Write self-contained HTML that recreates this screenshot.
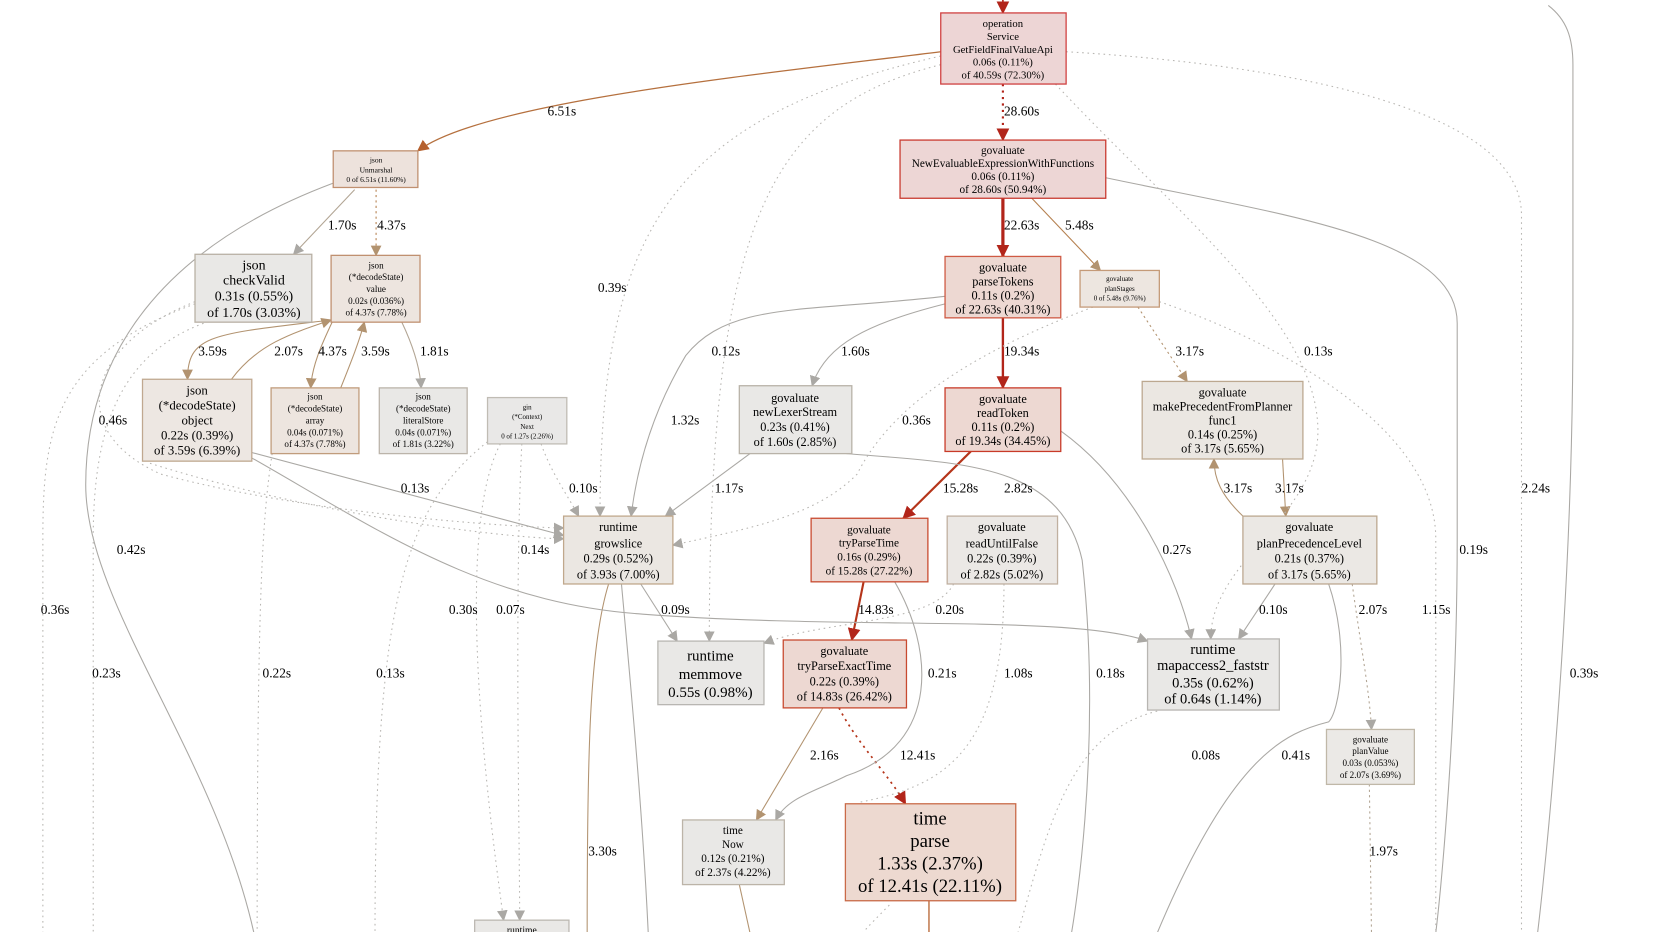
<!DOCTYPE html>
<html><head><meta charset="utf-8"><style>
html,body{margin:0;padding:0;background:#fff;}
svg{display:block;}
text{font-family:"Liberation Serif",serif;text-anchor:middle;fill:#000;}
.l{font-size:12.5px;text-anchor:start;}
</style></head><body>
<svg width="1679" height="932" viewBox="0 0 1567 865" preserveAspectRatio="none" xmlns="http://www.w3.org/2000/svg">
<defs>
<marker id="ar2" viewBox="0 0 10 10" refX="9" refY="5" markerWidth="12" markerHeight="12" orient="auto" markerUnits="userSpaceOnUse"><path d="M0,0 L10,5 L0,10z" fill="#b2251a"/></marker>
<marker id="ao" viewBox="0 0 10 10" refX="9" refY="5" markerWidth="11" markerHeight="11" orient="auto" markerUnits="userSpaceOnUse"><path d="M0,0 L10,5 L0,10z" fill="#b5602d"/></marker>
<marker id="ab" viewBox="0 0 10 10" refX="9" refY="5" markerWidth="10" markerHeight="10" orient="auto" markerUnits="userSpaceOnUse"><path d="M0,0 L10,5 L0,10z" fill="#b29370"/></marker>
<marker id="ag" viewBox="0 0 10 10" refX="9" refY="5" markerWidth="10" markerHeight="10" orient="auto" markerUnits="userSpaceOnUse"><path d="M0,0 L10,5 L0,10z" fill="#aaa8a4"/></marker>
</defs>
<g fill="none">
<path d="M936,0 L936,12" stroke="#b2251a" stroke-width="1.5" marker-end="url(#ar2)"/>
<path d="M936,78 L936,130" stroke="#b2251a" stroke-width="2" stroke-dasharray="2,4" marker-end="url(#ar2)"/>
<path d="M936,184 L936,238" stroke="#b2251a" stroke-width="3" marker-end="url(#ar2)"/>
<path d="M936,295 L936,360" stroke="#b2251a" stroke-width="2.2" marker-end="url(#ar2)"/>
<path d="M906,419 L843,481" stroke="#b5351a" stroke-width="2" marker-end="url(#ar2)"/>
<path d="M806,540 L795,594" stroke="#b5351a" stroke-width="2" marker-end="url(#ar2)"/>
<path d="M783,657 C800,690 830,720 845,746" stroke="#b5351a" stroke-width="1.6" stroke-dasharray="2,4" marker-end="url(#ar2)"/>
<path d="M878,48 C700,70 450,95 390,140" stroke="#b5703e" stroke-width="1.2" marker-end="url(#ao)"/>
<path d="M963,184 L1027,251" stroke="#b5804f" stroke-width="1" marker-end="url(#ab)"/>
<path d="M331,176 L274,236" stroke="#b2a594" stroke-width="1" marker-end="url(#ag)"/>
<path d="M351,176 L351,237" stroke="#b5804f" stroke-width="1" stroke-dasharray="2,3" marker-end="url(#ab)"/>
<path d="M309,297 C200,310 175,310 175,352" stroke="#b29370" stroke-width="1" marker-end="url(#ab)"/>
<path d="M216,352 C240,320 270,310 309,297" stroke="#b29370" stroke-width="1" marker-end="url(#ab)"/>
<path d="M310,299 C300,320 291,340 290,360" stroke="#b29370" stroke-width="1" marker-end="url(#ab)"/>
<path d="M318,360 C328,335 336,315 340,299" stroke="#b29370" stroke-width="1" marker-end="url(#ab)"/>
<path d="M375,299 C385,320 392,340 393,360" stroke="#b2a594" stroke-width="1" marker-end="url(#ag)"/>
<path d="M1062,285 L1108,354" stroke="#b29370" stroke-width="1" stroke-dasharray="2,3" marker-end="url(#ab)"/>
<path d="M1197,426 L1200,479" stroke="#b29370" stroke-width="1" marker-end="url(#ab)"/>
<path d="M1160,479 C1140,460 1133,445 1133,426" stroke="#b29370" stroke-width="1" marker-end="url(#ab)"/>
<path d="M1262,542 C1270,600 1278,640 1280,677" stroke="#b2a594" stroke-width="1" stroke-dasharray="2,3" marker-end="url(#ag)"/>
<path d="M1278,728 L1280,866" stroke="#b2a594" stroke-width="1" stroke-dasharray="2,3"/>
<path d="M768,657 L706,761" stroke="#b29370" stroke-width="1" marker-end="url(#ab)"/>
<path d="M568,542 C550,600 548,700 548,866" stroke="#b29370" stroke-width="1"/>
<path d="M690,821 L700,866" stroke="#b29370" stroke-width="1"/>
<path d="M867,836 L867,866" stroke="#b5602d" stroke-width="1.2"/>
<g stroke="#aaa8a4" stroke-width="1">
<path d="M835,540 C870,600 880,690 790,720 C760,735 735,740 724,761" marker-end="url(#ag)"/>
<path d="M311,170 C150,230 80,330 80,450 C80,560 200,700 237,866"/>
<path d="M882,275 C750,290 680,280 640,330 C610,380 595,430 589,479" marker-end="url(#ag)"/>
<path d="M882,282 C810,300 770,320 758,358" marker-end="url(#ag)"/>
<path d="M700,421 L621,479" marker-end="url(#ag)"/>
<path d="M235,420 L526,497" marker-end="url(#ag)"/>
<path d="M235,425 C350,490 450,560 600,570 C800,585 1000,570 1071,595" marker-end="url(#ag)"/>
<path d="M598,542 L632,595" marker-end="url(#ag)"/>
<path d="M790,421 C900,430 990,430 1010,520 C1030,700 1000,866 1000,866"/>
<path d="M990,400 C1060,450 1100,540 1112,593" marker-end="url(#ag)"/>
<path d="M1190,542 L1156,593" marker-end="url(#ag)"/>
<path d="M1240,542 C1260,600 1250,660 1240,670 C1200,680 1150,700 1080,866"/>
<path d="M1032,165 C1200,200 1360,220 1360,300 L1360,500 C1360,700 1340,866 1340,866"/>
<path d="M1445,5 C1462,18 1468,35 1468,60 L1468,300 C1468,600 1435,866 1435,866"/>
<path d="M580,542 C590,650 600,760 605,866"/>
</g>
<g stroke="#b8b6b2" stroke-width="1" stroke-dasharray="1.5,3.5">
<path d="M878,60 C720,100 662,200 662,595" marker-end="url(#ag)"/>
<path d="M878,52 C620,110 560,220 560,479" marker-end="url(#ag)"/>
<path d="M995,48 C1200,60 1420,100 1420,200 L1420,866"/>
<path d="M985,78 C1100,200 1230,300 1230,400 C1230,480 1130,520 1130,593" marker-end="url(#ag)"/>
<path d="M1082,280 C1200,320 1340,400 1340,500 L1340,866"/>
<path d="M1020,285 C900,330 830,380 800,440 C760,480 700,490 628,506" marker-end="url(#ag)"/>
<path d="M182,280 C80,320 60,400 150,440 C300,480 500,490 526,490" marker-end="url(#ag)"/>
<path d="M140,430 C300,480 480,500 526,500" marker-end="url(#ag)"/>
<path d="M182,282 C50,330 40,400 40,500 L40,866"/>
<path d="M190,300 C110,330 87,400 87,500 L87,866"/>
<path d="M254,421 C245,480 240,550 240,866"/>
<path d="M455,410 C380,470 350,550 350,866"/>
<path d="M467,412 C420,500 460,780 470,854" marker-end="url(#ag)"/>
<path d="M487,412 C480,550 485,780 485,854" marker-end="url(#ag)"/>
<path d="M505,412 C515,440 530,460 540,479" marker-end="url(#ag)"/>
<path d="M937,542 C937,700 880,730 800,745"/>
<path d="M890,542 C870,580 770,575 713,597" marker-end="url(#ag)"/>
<path d="M1080,660 C1000,680 980,760 950,866"/>
<path d="M830,840 C820,850 810,860 805,866"/>
</g>
</g>
<g stroke-width="1.2">
<rect x="878" y="12" width="117" height="66" fill="#edd5d5" stroke="#d04040"/>
<rect x="840" y="130" width="192" height="54" fill="#edd6d5" stroke="#c93a30"/>
<rect x="311" y="140" width="79" height="34" fill="#ede2dc" stroke="#c09070"/>
<rect x="182" y="236" width="109" height="63" fill="#e9e8e6" stroke="#b8b0a4"/>
<rect x="309" y="237" width="83" height="62" fill="#ede5df" stroke="#c09070"/>
<rect x="882" y="238" width="108" height="57" fill="#edd8d2" stroke="#cf5a44"/>
<rect x="1008" y="251" width="74" height="34" fill="#ede6e0" stroke="#c49a78"/>
<rect x="133" y="352" width="102" height="76" fill="#ede7e2" stroke="#c0a890"/>
<rect x="253" y="360" width="82" height="61" fill="#ede5df" stroke="#c09c7c"/>
<rect x="354" y="360" width="82" height="61" fill="#e9e8e6" stroke="#bbb4aa"/>
<rect x="455" y="369" width="74" height="43" fill="#e9e8e7" stroke="#c0bcb4"/>
<rect x="690" y="358" width="105" height="63" fill="#e9e8e6" stroke="#b8b2a8"/>
<rect x="882" y="360" width="108" height="59" fill="#edd8d2" stroke="#c83a28"/>
<rect x="1066" y="354" width="150" height="72" fill="#ebe7e2" stroke="#bca890"/>
<rect x="526" y="479" width="102" height="63" fill="#ebe7e2" stroke="#c0a88c"/>
<rect x="757" y="481" width="109" height="59" fill="#edd8d2" stroke="#c84a30"/>
<rect x="884" y="479" width="103" height="63" fill="#ebe8e5" stroke="#c0b0a0"/>
<rect x="1160" y="479" width="125" height="63" fill="#ebe8e4" stroke="#bca890"/>
<rect x="614" y="595" width="99" height="59" fill="#e9e8e6" stroke="#b8b6b2"/>
<rect x="731" y="594" width="115" height="63" fill="#edd8d2" stroke="#c84a30"/>
<rect x="1071" y="593" width="123" height="66" fill="#e9e8e6" stroke="#b8b6b2"/>
<rect x="1238" y="677" width="82" height="51" fill="#ebe9e6" stroke="#c0b8a8"/>
<rect x="637" y="761" width="95" height="60" fill="#e9e8e6" stroke="#bcb4a8"/>
<rect x="789" y="746" width="159" height="90" fill="#edd9d0" stroke="#c96a48"/>
<rect x="443" y="854" width="88" height="20" fill="#e9e8e6" stroke="#bcb8b2"/>
</g>
<g font-size="10">
<text x="936" y="25">operation</text><text x="936" y="37">Service</text><text x="936" y="49">GetFieldFinalValueApi</text><text x="936" y="61">0.06s (0.11%)</text><text x="936" y="73">of 40.59s (72.30%)</text>
</g>
<g font-size="10.5"><text x="936" y="143">govaluate</text><text x="936" y="155">NewEvaluableExpressionWithFunctions</text><text x="936" y="167">0.06s (0.11%)</text><text x="936" y="179">of 28.60s (50.94%)</text></g>
<g font-size="7"><text x="351" y="151">json</text><text x="351" y="160">Unmarshal</text><text x="351" y="169">0 of 6.51s (11.60%)</text></g>
<g font-size="13"><text x="237" y="250">json</text><text x="237" y="264">checkValid</text><text x="237" y="279">0.31s (0.55%)</text><text x="237" y="294">of 1.70s (3.03%)</text></g>
<g font-size="8.5"><text x="351" y="249">json</text><text x="351" y="260">(*decodeState)</text><text x="351" y="271">value</text><text x="351" y="282">0.02s (0.036%)</text><text x="351" y="293">of 4.37s (7.78%)</text></g>
<g font-size="11.5"><text x="936" y="252">govaluate</text><text x="936" y="265">parseTokens</text><text x="936" y="278">0.11s (0.2%)</text><text x="936" y="291">of 22.63s (40.31%)</text></g>
<g font-size="6.5"><text x="1045" y="261">govaluate</text><text x="1045" y="270">planStages</text><text x="1045" y="279">0 of 5.48s (9.76%)</text></g>
<g font-size="12"><text x="184" y="366">json</text><text x="184" y="380">(*decodeState)</text><text x="184" y="394">object</text><text x="184" y="408">0.22s (0.39%)</text><text x="184" y="422">of 3.59s (6.39%)</text></g>
<g font-size="8.5"><text x="294" y="371">json</text><text x="294" y="382">(*decodeState)</text><text x="294" y="393">array</text><text x="294" y="404">0.04s (0.071%)</text><text x="294" y="415">of 4.37s (7.78%)</text></g>
<g font-size="8.5"><text x="395" y="371">json</text><text x="395" y="382">(*decodeState)</text><text x="395" y="393">literalStore</text><text x="395" y="404">0.04s (0.071%)</text><text x="395" y="415">of 1.81s (3.22%)</text></g>
<g font-size="6.5"><text x="492" y="380">gin</text><text x="492" y="389">(*Context)</text><text x="492" y="398">Next</text><text x="492" y="407">0 of 1.27s (2.26%)</text></g>
<g font-size="11.5"><text x="742" y="373">govaluate</text><text x="742" y="386">newLexerStream</text><text x="742" y="400">0.23s (0.41%)</text><text x="742" y="414">of 1.60s (2.85%)</text></g>
<g font-size="11.5"><text x="936" y="374">govaluate</text><text x="936" y="387">readToken</text><text x="936" y="400">0.11s (0.2%)</text><text x="936" y="413">of 19.34s (34.45%)</text></g>
<g font-size="11.5"><text x="1141" y="368">govaluate</text><text x="1141" y="381">makePrecedentFromPlanner</text><text x="1141" y="394">func1</text><text x="1141" y="407">0.14s (0.25%)</text><text x="1141" y="420">of 3.17s (5.65%)</text></g>
<g font-size="11.5"><text x="577" y="493">runtime</text><text x="577" y="508">growslice</text><text x="577" y="522">0.29s (0.52%)</text><text x="577" y="537">of 3.93s (7.00%)</text></g>
<g font-size="10.5"><text x="811" y="495">govaluate</text><text x="811" y="507">tryParseTime</text><text x="811" y="520">0.16s (0.29%)</text><text x="811" y="533">of 15.28s (27.22%)</text></g>
<g font-size="11.5"><text x="935" y="493">govaluate</text><text x="935" y="508">readUntilFalse</text><text x="935" y="522">0.22s (0.39%)</text><text x="935" y="537">of 2.82s (5.02%)</text></g>
<g font-size="11.5"><text x="1222" y="493">govaluate</text><text x="1222" y="508">planPrecedenceLevel</text><text x="1222" y="522">0.21s (0.37%)</text><text x="1222" y="537">of 3.17s (5.65%)</text></g>
<g font-size="14"><text x="663" y="613">runtime</text><text x="663" y="630">memmove</text><text x="663" y="647">0.55s (0.98%)</text></g>
<g font-size="11.5"><text x="788" y="608">govaluate</text><text x="788" y="622">tryParseExactTime</text><text x="788" y="636">0.22s (0.39%)</text><text x="788" y="650">of 14.83s (26.42%)</text></g>
<g font-size="13.5"><text x="1132" y="607">runtime</text><text x="1132" y="622">mapaccess2_faststr</text><text x="1132" y="638">0.35s (0.62%)</text><text x="1132" y="653">of 0.64s (1.14%)</text></g>
<g font-size="8.5"><text x="1279" y="689">govaluate</text><text x="1279" y="700">planValue</text><text x="1279" y="711">0.03s (0.053%)</text><text x="1279" y="722">of 2.07s (3.69%)</text></g>
<g font-size="10.5"><text x="684" y="774">time</text><text x="684" y="787">Now</text><text x="684" y="800">0.12s (0.21%)</text><text x="684" y="813">of 2.37s (4.22%)</text></g>
<g font-size="17.5"><text x="868" y="765">time</text><text x="868" y="786">parse</text><text x="868" y="807">1.33s (2.37%)</text><text x="868" y="828">of 12.41s (22.11%)</text></g>
<g font-size="9"><text x="487" y="866">runtime</text></g>
<g>
<text class="l" x="511" y="107">6.51s</text>
<text class="l" x="937" y="107">28.60s</text>
<text class="l" x="937" y="213">22.63s</text>
<text class="l" x="994" y="213">5.48s</text>
<text class="l" x="306" y="213">1.70s</text>
<text class="l" x="352" y="213">4.37s</text>
<text class="l" x="558" y="271">0.39s</text>
<text class="l" x="664" y="330">0.12s</text>
<text class="l" x="785" y="330">1.60s</text>
<text class="l" x="937" y="330">19.34s</text>
<text class="l" x="1097" y="330">3.17s</text>
<text class="l" x="1217" y="330">0.13s</text>
<text class="l" x="185" y="330">3.59s</text>
<text class="l" x="256" y="330">2.07s</text>
<text class="l" x="297" y="330">4.37s</text>
<text class="l" x="337" y="330">3.59s</text>
<text class="l" x="392" y="330">1.81s</text>
<text class="l" x="92" y="394">0.46s</text>
<text class="l" x="626" y="394">1.32s</text>
<text class="l" x="842" y="394">0.36s</text>
<text class="l" x="374" y="457">0.13s</text>
<text class="l" x="531" y="457">0.10s</text>
<text class="l" x="667" y="457">1.17s</text>
<text class="l" x="880" y="457">15.28s</text>
<text class="l" x="937" y="457">2.82s</text>
<text class="l" x="1142" y="457">3.17s</text>
<text class="l" x="1190" y="457">3.17s</text>
<text class="l" x="1420" y="457">2.24s</text>
<text class="l" x="109" y="514">0.42s</text>
<text class="l" x="486" y="514">0.14s</text>
<text class="l" x="1085" y="514">0.27s</text>
<text class="l" x="1362" y="514">0.19s</text>
<text class="l" x="38" y="570">0.36s</text>
<text class="l" x="419" y="570">0.30s</text>
<text class="l" x="463" y="570">0.07s</text>
<text class="l" x="617" y="570">0.09s</text>
<text class="l" x="801" y="570">14.83s</text>
<text class="l" x="873" y="570">0.20s</text>
<text class="l" x="1175" y="570">0.10s</text>
<text class="l" x="1268" y="570">2.07s</text>
<text class="l" x="1327" y="570">1.15s</text>
<text class="l" x="86" y="629">0.23s</text>
<text class="l" x="245" y="629">0.22s</text>
<text class="l" x="351" y="629">0.13s</text>
<text class="l" x="866" y="629">0.21s</text>
<text class="l" x="937" y="629">1.08s</text>
<text class="l" x="1023" y="629">0.18s</text>
<text class="l" x="1465" y="629">0.39s</text>
<text class="l" x="756" y="705">2.16s</text>
<text class="l" x="840" y="705">12.41s</text>
<text class="l" x="1112" y="705">0.08s</text>
<text class="l" x="1196" y="705">0.41s</text>
<text class="l" x="549" y="794">3.30s</text>
<text class="l" x="1278" y="794">1.97s</text>
</g>
</svg>
</body></html>
